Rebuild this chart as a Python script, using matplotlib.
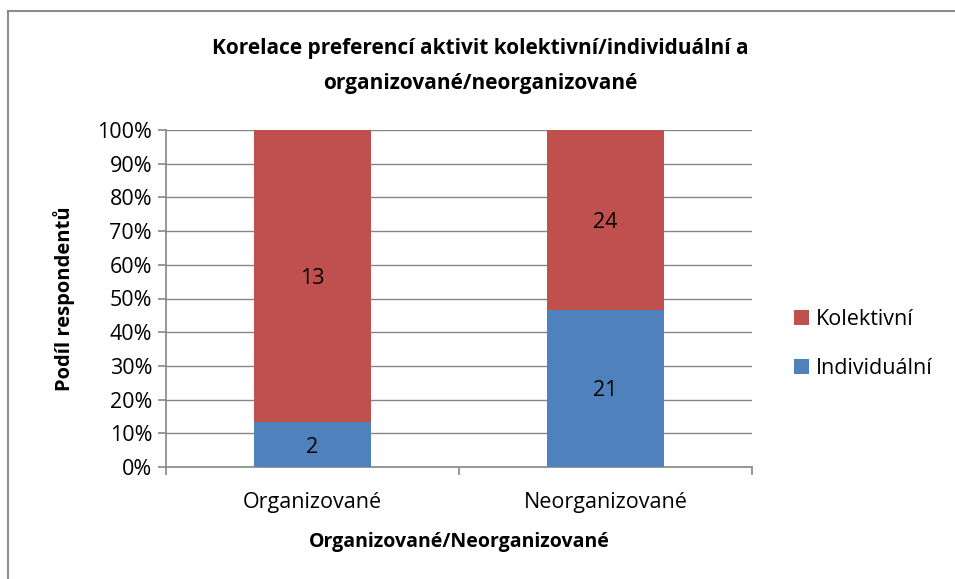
import matplotlib.pyplot as plt
from matplotlib.patches import Rectangle
from matplotlib.ticker import PercentFormatter
import numpy as np

# Data
categories = ['Organizované', 'Neorganizované']
individualni = [2, 21]
kolektivni = [13, 24]
series_names = ['Individuální', 'Kolektivní']

plt.rcParams['font.family'] = ['Open Sans', 'DejaVu Sans']

RED = '#C0504D'
BLUE = '#4F81BD'
GRID = '#868686'
FS = 15.5

fig = plt.figure(figsize=(9.55, 5.79), dpi=100)
ax = fig.add_axes([166 / 955, 1 - 467 / 579, (752 - 166) / 955, (467 - 130) / 579])

# outer chart border (cut at right/bottom like the screenshot)
fig.patches.append(Rectangle((8 / 955, -0.05), 1.1, 1 - 11 / 579 + 0.05,
                             transform=fig.transFigure, fill=False,
                             edgecolor='#8c8c8c', linewidth=1.5))

ind = np.array(individualni, dtype=float)
kol = np.array(kolektivni, dtype=float)
tot = ind + kol
ind_pct = ind / tot * 100
kol_pct = kol / tot * 100

x = np.arange(len(categories))
w = 0.4
ax.bar(x, ind_pct, w, color=BLUE, label=series_names[0], zorder=3)
ax.bar(x, kol_pct, w, bottom=ind_pct, color=RED, label=series_names[1], zorder=3)

for i in range(len(categories)):
    ax.text(x[i], ind_pct[i] / 2, str(individualni[i]), ha='center',
            va='center_baseline', fontsize=FS, zorder=4)
    ax.text(x[i], ind_pct[i] + kol_pct[i] / 2, str(kolektivni[i]), ha='center',
            va='center_baseline', fontsize=FS, zorder=4)

ax.set_xlim(-0.5, 1.5)
ax.set_ylim(0, 100)
ax.set_yticks(np.arange(0, 101, 10))
ax.yaxis.set_major_formatter(PercentFormatter(decimals=0))
ax.grid(axis='y', color=GRID, linewidth=1, zorder=0)

ax.set_xticks(x)
ax.set_xticklabels(categories)
ax.set_xticks([-0.5, 0.5, 1.5], minor=True)
ax.tick_params(axis='x', which='major', length=0, pad=18, labelsize=FS)
ax.tick_params(axis='x', which='minor', length=6, color=GRID, width=1.2)
ax.tick_params(axis='y', length=6, color=GRID, width=1.2, labelsize=FS, pad=4)

for s in ['top', 'right']:
    ax.spines[s].set_visible(False)
for s in ['left', 'bottom']:
    ax.spines[s].set_color(GRID)
    ax.spines[s].set_linewidth(1.2)

ax.set_ylabel('Podíl respondentů', fontsize=14.5, fontweight='bold', labelpad=16)
ax.set_xlabel('Organizované/Neorganizované', fontsize=14, fontweight='bold', labelpad=14)

fig.text(0.503, 1 - 66 / 579,
         'Korelace preferencí aktivit kolektivní/individuální a\norganizované/neorganizované',
         ha='center', va='center', fontsize=15, fontweight='bold', linespacing=1.9)

handles, labels = ax.get_legend_handles_labels()
ax.legend(handles[::-1], labels[::-1], loc='center left', bbox_to_anchor=(1.054, 0.365),
          frameon=False, fontsize=FS, handlelength=0.7, handleheight=0.7,
          handletextpad=0.3, labelspacing=1.3, borderpad=0)

fig.savefig('out.png', dpi=100)
